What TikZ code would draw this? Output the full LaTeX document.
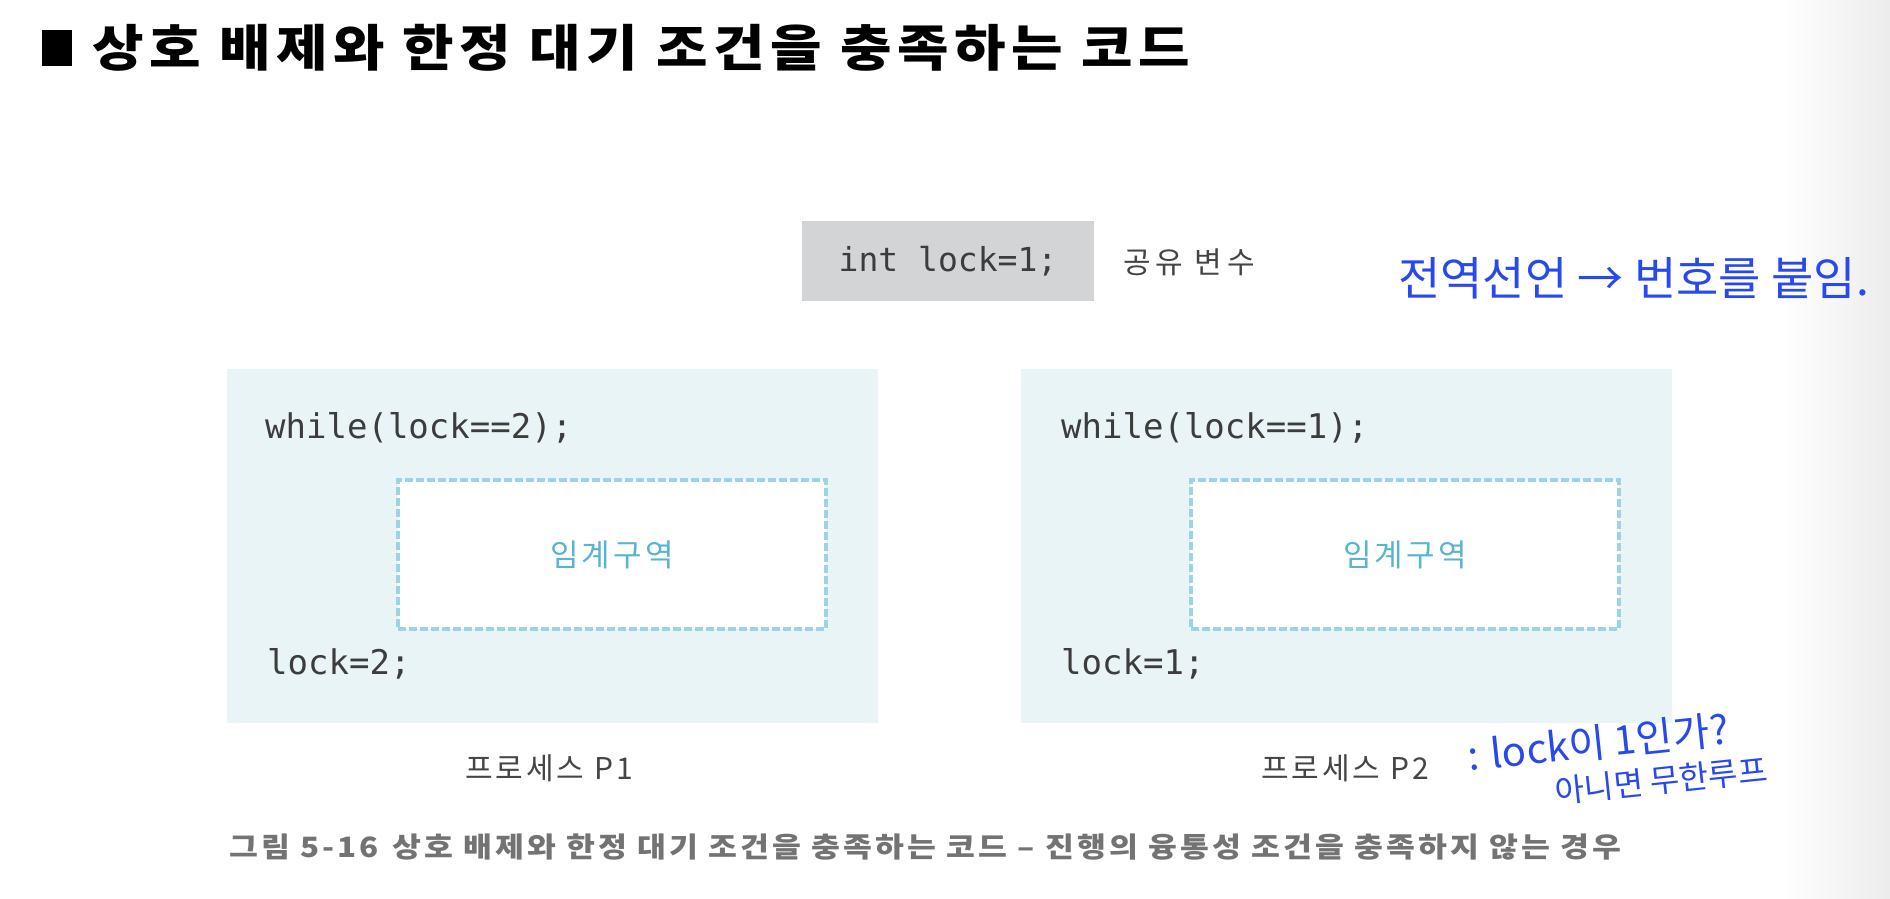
\documentclass[tikz,border=0pt]{standalone}
\usepackage{fontspec}
\setmainfont{Noto Sans CJK KR}
\newfontfamily\kr{Noto Sans CJK KR}
\newfontfamily\codefont{DejaVu Sans Mono}
\definecolor{panelbg}{HTML}{E9F4F7}
\definecolor{graybox}{HTML}{D3D4D6}
\definecolor{crit}{HTML}{5AB4CF}
\definecolor{dashc}{HTML}{9DD3E6}
\definecolor{codec}{HTML}{3C3C3C}
\definecolor{labelc}{HTML}{454545}
\definecolor{capc}{HTML}{737373}
\definecolor{hand}{HTML}{2848F0}
\definecolor{edgegray}{HTML}{ECECEC}
\tikzset{
  panel/.style={fill=panelbg, draw=none},
  critbox/.style={fill=white, draw=dashc, line width=3.5pt, dash pattern=on 8pt off 3pt},
  code/.style={inner sep=0pt, text=codec, font=\codefont\fontsize{34}{40}\selectfont},
  crittext/.style={inner sep=0pt, text=crit, font=\kr\fontsize{31}{36}\selectfont\addfontfeatures{LetterSpace=10}},
  plabel/.style={inner sep=0pt, text=labelc, font=\kr\fontsize{30}{34}\selectfont\addfontfeatures{LetterSpace=10}},
  handtext/.style={inner sep=0pt, text=hand, font=\kr\fontsize{#1}{#1}\selectfont},
}
\begin{document}
\begin{tikzpicture}[x=1pt,y=-1pt]
\useasboundingbox (0,0) rectangle (1890,899);
\fill[white] (0,0) rectangle (1890,899);
\shade[left color=white, right color=edgegray] (1780,0) rectangle (1890,899);
% title
\fill[black] (42,30) rectangle (72,66) coordinate (sq);
\node[anchor=west, inner sep=0pt, font=\kr\bfseries\fontsize{50}{56}\selectfont\addfontfeatures{FakeStretch=1.12,LetterSpace=11}] (title) at (92,48) {상호 배제와 한정 대기 조건을 충족하는 코드};
% shared variable
\node[fill=graybox, minimum width=292pt, minimum height=80pt, inner sep=0pt] (shared) at (948,261) {};
\node[code, font=\codefont\fontsize{33}{40}\selectfont] (sharedcode) at (shared.center) {int lock=1;};
\node[plabel, anchor=west, font=\kr\fontsize{30}{34}\selectfont\addfontfeatures{LetterSpace=16}] (sharedlbl) at (1123,262) {공유 변수};
\node[handtext=46, anchor=west] (note1) at (1398,278) {전역선언 → 번호를 붙임.};
% panels
\node[panel, minimum width=651pt, minimum height=354pt, inner sep=0pt] (p1) at (552.5,546) {};
\node[panel, minimum width=651pt, minimum height=354pt, inner sep=0pt] (p2) at (1346.5,546) {};
\node[critbox, minimum width=428pt, minimum height=149pt, inner sep=0pt] (cs1) at (612,554.5) {};
\node[critbox, minimum width=428pt, minimum height=149pt, inner sep=0pt] (cs2) at (1405,554.5) {};
\node[crittext] (cs1t) at (cs1.center) {임계구역};
\node[crittext] (cs2t) at (cs2.center) {임계구역};
\node[code, anchor=west] (w1) at (265,428) {while(lock==2);};
\node[code, anchor=west] (l1) at (267,664) {lock=2;};
\node[code, anchor=west] (w2) at (1061,428) {while(lock==1);};
\node[code, anchor=west] (l2) at (1061,664) {lock=1;};
\node[plabel] (pn1) at (549,768) {프로세스 P1};
\node[plabel] (pn2) at (1345,768) {프로세스 P2};
\node[handtext=40, anchor=west, rotate=6] (note2) at (1468,756) {: lock이 1인가?};
\node[handtext=32, anchor=west, rotate=6] (note3) at (1555,792) {아니면 무한루프};
% caption
\node[anchor=west, inner sep=0pt, text=capc, font=\kr\bfseries\fontsize{28}{32}\selectfont\addfontfeatures{FakeStretch=1.12,LetterSpace=11}] (cap) at (229,847) {그림 5-16\enspace 상호 배제와 한정 대기 조건을 충족하는 코드 – 진행의 융통성 조건을 충족하지 않는 경우};
\end{tikzpicture}
\end{document}
